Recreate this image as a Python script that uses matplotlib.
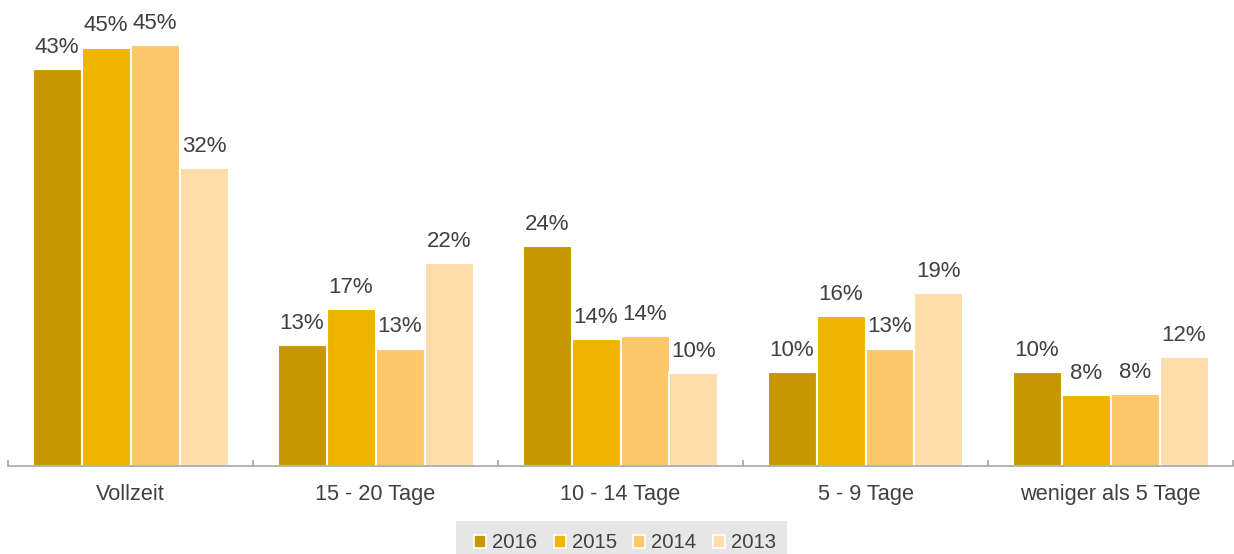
import matplotlib
matplotlib.use("Agg")
import matplotlib.pyplot as plt
from matplotlib.patches import Rectangle, Patch
import numpy as np

categories = ["Vollzeit", "15 - 20 Tage", "10 - 14 Tage", "5 - 9 Tage", "weniger als 5 Tage"]
years = ["2016", "2015", "2014", "2013"]
v2016 = [42.6, 13.0, 23.6, 10.1, 10.1]
v2015 = [44.9, 16.8, 13.6, 16.1, 7.6]
v2014 = [45.2, 12.6, 13.9, 12.6, 7.7]
v2013 = [32.0, 21.8, 10.0, 18.6, 11.7]
series = [v2016, v2015, v2014, v2013]
colors = ["#C89600", "#EFB400", "#FDC76A", "#FFDDAB"]

plt.rcParams['font.family'] = ['Liberation Sans', 'DejaVu Sans']
txt = "#404040"

W, H = 1234, 554
fig = plt.figure(figsize=(W / 100, H / 100), dpi=100)
ax = fig.add_axes([8 / W, 88 / H, (1233 - 8) / W, 1 - 88 / H])

x = np.arange(len(categories))
bw = 0.2
for i, (vals, c) in enumerate(zip(series, colors)):
    pos = x + (i - 1.5) * bw
    ax.bar(pos, vals, width=bw, color=c, edgecolor="white", linewidth=1.5, zorder=2)
    for xp, v in zip(pos, vals):
        ax.annotate(f"{v:.0f}%", (xp, v), xytext=(0, 8), textcoords="offset points",
                    ha="center", va="bottom", fontsize=16, color=txt)

ax.set_xlim(-0.5, len(categories) - 0.5)
ax.set_ylim(0, 50)
for s in ["top", "right", "left"]:
    ax.spines[s].set_visible(False)
ax.spines["bottom"].set_color("#A6A6A6")
ax.spines["bottom"].set_linewidth(1.2)
ax.set_yticks([])
ax.set_xticks(x)
ax.set_xticklabels(categories, fontsize=15.7, color=txt)
ax.tick_params(axis="x", which="major", length=0, pad=13)
ax.set_xticks(np.arange(len(categories) + 1) - 0.5, minor=True)
ax.tick_params(axis="x", which="minor", direction="in", length=4, width=1.2, color="#A6A6A6")

# legend background
fig.patches.append(Rectangle((456 / W, 0), (787 - 456) / W, (554 - 521) / H,
                             transform=fig.transFigure, facecolor="#E6E6E6",
                             edgecolor="none", zorder=0))
handles = [Patch(facecolor=c, edgecolor="white", linewidth=1.2) for c in colors]
leg = fig.legend(handles, years, loc="center", bbox_to_anchor=(625 / W, 11 / H),
                 bbox_transform=fig.transFigure, ncol=4, frameon=False,
                 fontsize=14.6, handlelength=0.6, handleheight=0.6,
                 handletextpad=0.3, columnspacing=0.8, borderpad=0, borderaxespad=0)
for t in leg.get_texts():
    t.set_color(txt)

fig.savefig("out.png", dpi=100)
